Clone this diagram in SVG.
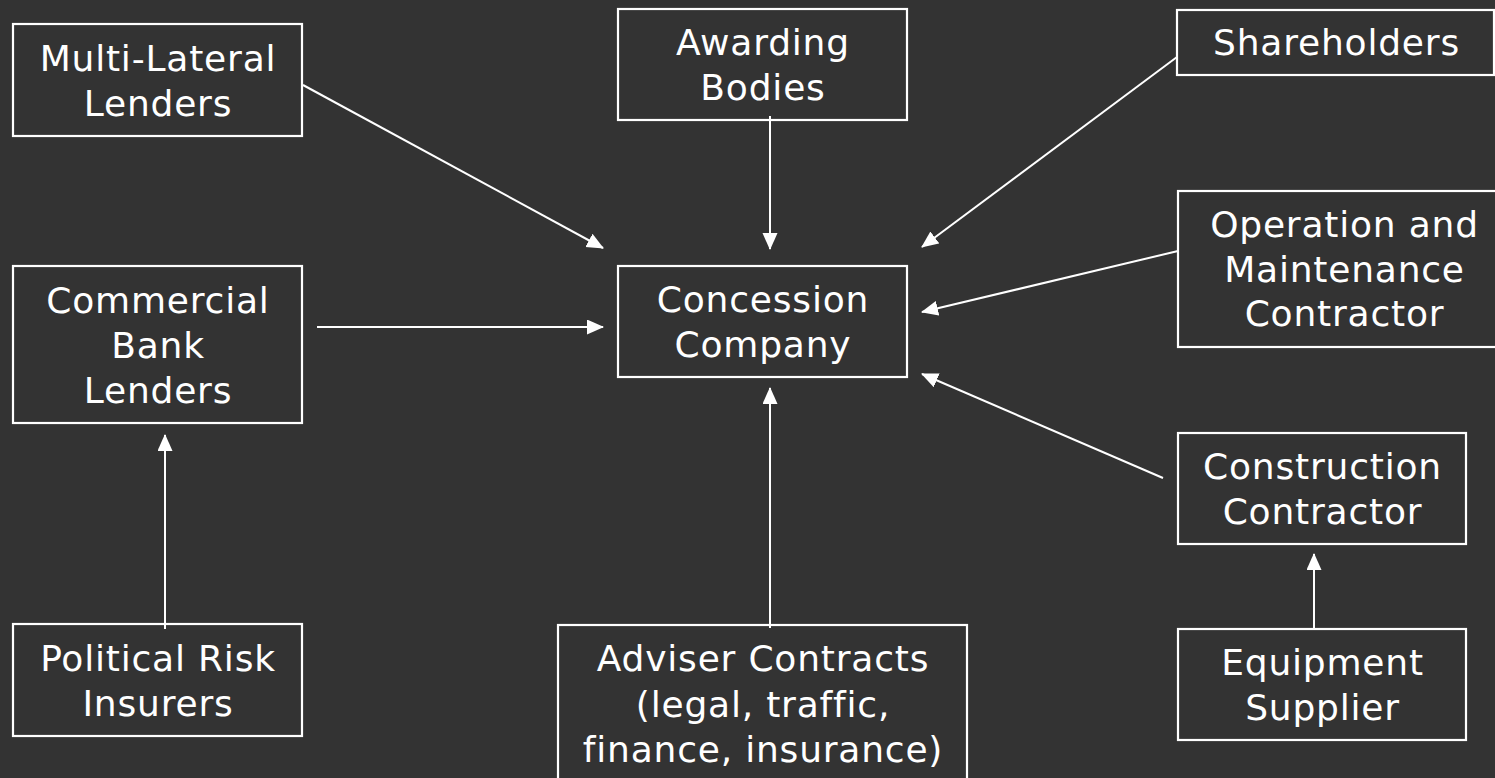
<svg xmlns="http://www.w3.org/2000/svg" width="1495" height="778" viewBox="0 0 1495 778">
<style>
.box{fill:none;stroke:#ffffff;stroke-width:2.2}
.lbl{font-family:"DejaVu Sans",Verdana,sans-serif;font-size:36px;letter-spacing:0.8px;fill:#ffffff;text-anchor:middle}
.con{stroke:#ffffff;stroke-width:2;fill:none;marker-end:url(#ah)}
</style>
<defs>
<marker id="ah" markerUnits="userSpaceOnUse" markerWidth="17" markerHeight="16" refX="16" refY="7.5" orient="auto">
<path d="M0,0 L17,7.5 L0,15 z" fill="#ffffff"/>
</marker>
</defs>
<rect width="1495" height="778" fill="#333333"/>
<g id="connectors">
<line class="con" x1="303" y1="85" x2="603" y2="248"/>
<line class="con" x1="770" y1="116" x2="770" y2="249"/>
<line class="con" x1="1177" y1="57" x2="922" y2="247"/>
<line class="con" x1="1178" y1="251" x2="922" y2="312"/>
<line class="con" x1="317" y1="327" x2="603" y2="327"/>
<line class="con" x1="1163" y1="478" x2="922" y2="374"/>
<line class="con" x1="770" y1="628" x2="770" y2="388"/>
<line class="con" x1="165" y1="629" x2="165" y2="435"/>
<line class="con" x1="1314" y1="629" x2="1314" y2="554"/>
</g>
<g id="multilateral">
<rect class="box" x="13" y="24" width="289" height="112"/>
<text class="lbl" x="158" y="71">Multi-Lateral</text>
<text class="lbl" x="158" y="116">Lenders</text>
</g>
<g id="awarding">
<rect class="box" x="618" y="9" width="289" height="111"/>
<text class="lbl" x="763" y="55">Awarding</text>
<text class="lbl" x="763" y="100">Bodies</text>
</g>
<g id="shareholders">
<rect class="box" x="1177" y="10" width="317" height="65"/>
<text class="lbl" x="1336.5" y="55">Shareholders</text>
</g>
<g id="om">
<rect class="box" x="1178" y="191" width="332" height="156"/>
<text class="lbl" x="1344.5" y="237">Operation and</text>
<text class="lbl" x="1344.5" y="282">Maintenance</text>
<text class="lbl" x="1344.5" y="326">Contractor</text>
</g>
<g id="commercial">
<rect class="box" x="13" y="266" width="289" height="157"/>
<text class="lbl" x="158" y="313">Commercial</text>
<text class="lbl" x="158" y="358">Bank</text>
<text class="lbl" x="158" y="403">Lenders</text>
</g>
<g id="concession">
<rect class="box" x="618" y="266" width="289" height="111"/>
<text class="lbl" x="763" y="312">Concession</text>
<text class="lbl" x="763" y="357">Company</text>
</g>
<g id="construction">
<rect class="box" x="1178" y="433" width="288" height="111"/>
<text class="lbl" x="1322.5" y="479">Construction</text>
<text class="lbl" x="1322.5" y="524">Contractor</text>
</g>
<g id="equipment">
<rect class="box" x="1178" y="629" width="288" height="111"/>
<text class="lbl" x="1322.5" y="675">Equipment</text>
<text class="lbl" x="1322.5" y="720">Supplier</text>
</g>
<g id="political">
<rect class="box" x="13" y="624" width="289" height="112"/>
<text class="lbl" x="158" y="671">Political Risk</text>
<text class="lbl" x="158" y="716">Insurers</text>
</g>
<g id="adviser">
<rect class="box" x="558" y="625" width="409" height="170"/>
<text class="lbl" x="763" y="671">Adviser Contracts</text>
<text class="lbl" x="763" y="717">(legal, traffic,</text>
<text class="lbl" x="763" y="762">finance, insurance)</text>
</g>
</svg>
